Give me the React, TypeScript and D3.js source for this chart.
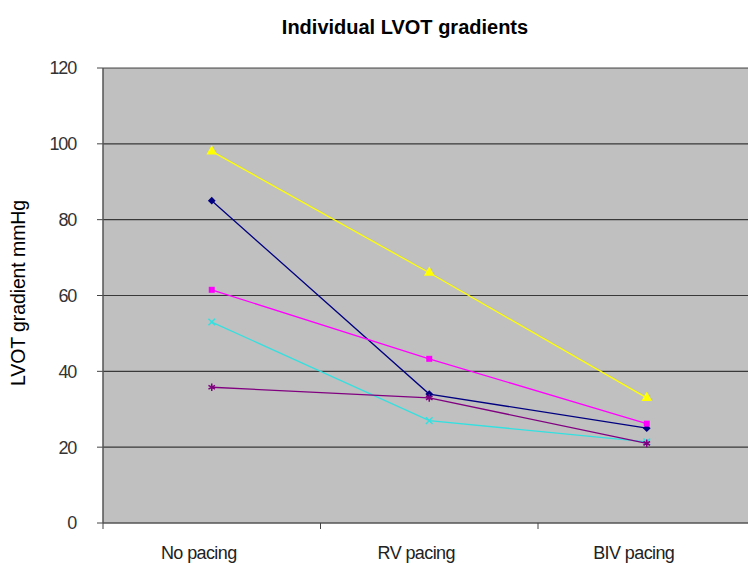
import { line, scaleBand, scaleLinear, symbol, symbolSquare, symbolTriangle, symbolTimes, symbolAsterisk } from 'd3'

const categories = ['No pacing', 'RV pacing', 'BIV pacing']
const yTicks = [0, 20, 40, 60, 80, 100, 120]

const navyValues = [85, 34, 25]
const magentaValues = [61.5, 43.3, 26.2]
const yellowValues = [98, 66, 33]
const cyanValues = [53, 27, 21.4]
const purpleValues = [35.8, 33, 21]

const series = [
  { key: 'navy', values: navyValues, color: '#000080', shape: symbolSquare, size: 30, rotate: 45, stroke: false },
  { key: 'magenta', values: magentaValues, color: '#ff00ff', shape: symbolSquare, size: 36, rotate: 0, stroke: false },
  { key: 'yellow', values: yellowValues, color: '#ffff00', shape: symbolTriangle, size: 50, rotate: 0, stroke: false },
  { key: 'cyan', values: cyanValues, color: '#33e0e0', shape: symbolTimes, size: 30, rotate: 0, stroke: true },
  { key: 'purple', values: purpleValues, color: '#800080', shape: symbolAsterisk, size: 40, rotate: 0, stroke: true },
]

const width = 748
const height = 564
const plot = { left: 103, top: 68, bottom: 523, band: 217.5 }
const font = '"Liberation Sans", Arial, sans-serif'

function App() {
  const xScale = scaleBand()
    .domain(categories)
    .range([plot.left, plot.left + plot.band * categories.length])
    .padding(0)

  const yScale = scaleLinear().domain([0, 120]).range([plot.bottom, plot.top])

  const cx = (c: string) => (xScale(c) ?? 0) + xScale.bandwidth() / 2

  const path = line<number>()
    .x((_, i) => cx(categories[i]))
    .y((d) => yScale(d))

  return (
    <svg
      width={width}
      height={height}
      style={{ position: 'absolute', left: 0, top: 0, background: '#fff' }}
      fontFamily={font}
    >
      <text
        x={405}
        y={34}
        textAnchor="middle"
        fontSize={20}
        fontWeight="bold"
        letterSpacing={0}
        fill="#000"
      >
        Individual LVOT gradients
      </text>

      <rect
        x={plot.left}
        y={plot.top}
        width={width - plot.left}
        height={plot.bottom - plot.top}
        fill="#c0c0c0"
      />

      {yTicks.map((tick) => (
        <g key={tick}>
          {tick > 0 && (
            <line
              x1={plot.left}
              x2={width}
              y1={yScale(tick)}
              y2={yScale(tick)}
              stroke="#000"
              strokeWidth={1.2}
              opacity={0.7}
            />
          )}
          <line
            x1={plot.left - 6}
            x2={plot.left}
            y1={yScale(tick)}
            y2={yScale(tick)}
            stroke="#444"
          />
          <text
            x={76}
            y={yScale(tick)}
            dy="0.36em"
            textAnchor="end"
            fontSize={18}
            letterSpacing={-1.2}
            fill="#333"
          >
            {tick}
          </text>
        </g>
      ))}

      <line x1={plot.left} x2={plot.left} y1={plot.top} y2={plot.bottom} stroke="#555" strokeWidth={1.5} />
      <line x1={plot.left} x2={width} y1={plot.bottom} y2={plot.bottom} stroke="#555" strokeWidth={1.5} />

      {categories.map((c) => (
        <g key={c}>
          <line
            x1={xScale(c) ?? 0}
            x2={xScale(c) ?? 0}
            y1={plot.bottom}
            y2={plot.bottom + 6}
            stroke="#444"
          />
          <text
            x={cx(c) - 13}
            y={559}
            textAnchor="middle"
            fontSize={18}
            letterSpacing={-0.6}
            fill="#222"
          >
            {c}
          </text>
        </g>
      ))}

      <text
        transform={`translate(25, ${293}) rotate(-90)`}
        textAnchor="middle"
        fontSize={19.5}
        letterSpacing={-0.1}
        fill="#000"
        style={{ fontWeight: 500 }}
      >
        LVOT gradient mmHg
      </text>

      {series.map((s) => (
        <g key={s.key}>
          <path d={path(s.values) ?? ''} fill="none" stroke={s.color} strokeWidth={1.3} />
          {s.values.map((v, i) => (
            <path
              key={i}
              transform={`translate(${cx(categories[i])}, ${yScale(v)}) rotate(${s.rotate})`}
              d={symbol().type(s.shape).size(s.size)() ?? ''}
              fill={s.stroke ? 'none' : s.color}
              stroke={s.stroke ? s.color : 'none'}
              strokeWidth={1.5}
            />
          ))}
        </g>
      ))}
    </svg>
  )
}

export default App
